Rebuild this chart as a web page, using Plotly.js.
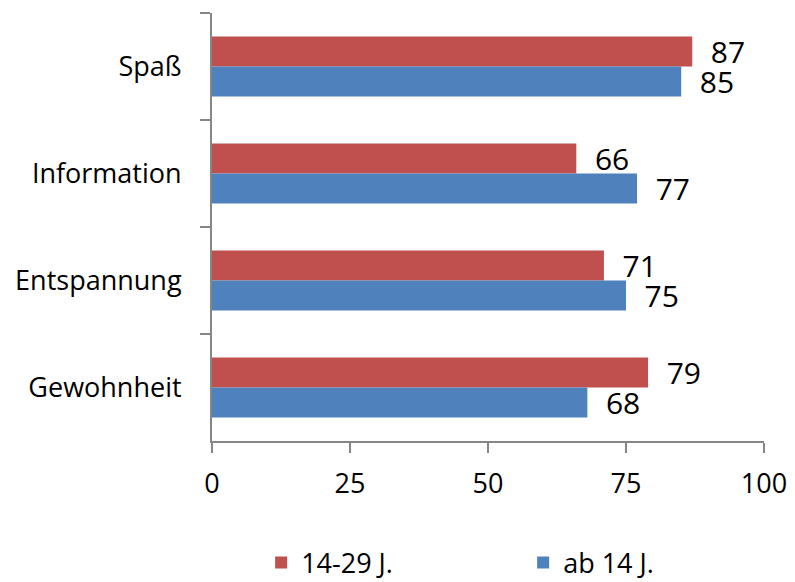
<!DOCTYPE html>
<html>
<head>
<meta charset="utf-8">
<script src="https://cdn.plot.ly/plotly-3.0.1.min.js"></script>
<style>html,body{margin:0;padding:0;background:#fff;}#chart{width:795px;height:582px;}</style>
</head>
<body>
<div id="chart"></div>
<script>
const categories = ['Spaß', 'Information', 'Entspannung', 'Gewohnheit'];
const seriesNames = ['14-29 J.', 'ab 14 J.'];
const young = [87, 66, 71, 79];
const all = [85, 77, 75, 68];
const xTicks = [0, 25, 50, 75, 100];

const FONT = '"Open Sans", "Noto Sans", sans-serif';
const axisGray = '#868686';

function barTrace(name, values, color) {
  return {
    type: 'bar', orientation: 'h', name: name,
    y: categories, x: values,
    marker: {color: color, line: {width: 0}},
    text: values.map(v => '\u00a0\u00a0' + v),
    textposition: 'outside',
    textfont: {family: FONT, size: 30, color: '#000'},
    constraintext: 'none',
    cliponaxis: false,
    hoverinfo: 'none'
  };
}

const data = [
  barTrace(seriesNames[0], young, '#C0504D'),
  barTrace(seriesNames[1], all, '#4F81BD')
];

const layout = {
  width: 795, height: 582,
  margin: {l: 212, r: 31, t: 13, b: 141, autoexpand: false},
  paper_bgcolor: '#fff', plot_bgcolor: '#fff',
  font: {family: FONT, size: 27, color: '#000'},
  barmode: 'group', bargap: 0.44, bargroupgap: 0,
  showlegend: true,
  legend: {
    orientation: 'h', x: 0.089, xanchor: 'left', y: -0.285, yanchor: 'middle',
    font: {family: FONT, size: 27, color: '#000'},
    entrywidth: 217, entrywidthmode: 'pixels', traceorder: 'normal'
  },
  xaxis: {
    range: [0, 100], tickvals: xTicks, ticktext: xTicks.map(String),
    showgrid: false, zeroline: false,
    showline: true, linecolor: axisGray, linewidth: 2,
    ticks: 'outside', ticklen: 10, tickcolor: axisGray, tickwidth: 2,
    tickfont: {family: FONT, size: 27, color: '#000'},
    ticklabelstandoff: 8,
    fixedrange: true
  },
  yaxis: {
    type: 'category', categoryorder: 'array', categoryarray: categories,
    autorange: 'reversed',
    showgrid: false, zeroline: false,
    showline: true, linecolor: axisGray, linewidth: 2,
    ticks: 'outside', ticklen: 10, tickcolor: axisGray, tickwidth: 2,
    tickson: 'boundaries',
    tickfont: {family: FONT, size: 27, color: '#000'},
    ticklabelstandoff: 23,
    fixedrange: true
  }
};

Plotly.newPlot('chart', data, layout, {displayModeBar: false, staticPlot: true});
</script>
</body>
</html>
